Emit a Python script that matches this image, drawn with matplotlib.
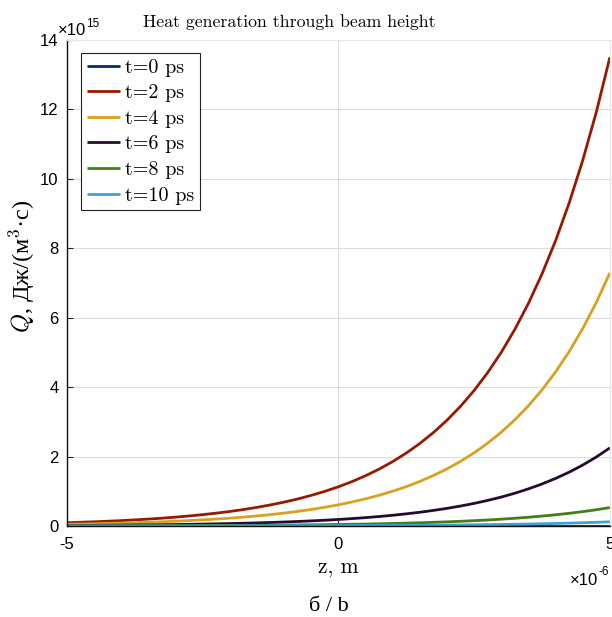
import matplotlib
matplotlib.use("Agg")
import matplotlib.pyplot as plt

# depth coordinate through the beam height (units of 1e-6 m)
z_um = [-5.0, -4.75, -4.5, -4.25, -4.0, -3.75, -3.5, -3.25, -3.0, -2.75, -2.5,
        -2.25, -2.0, -1.75, -1.5, -1.25, -1.0, -0.75, -0.5, -0.25, 0.0,
        0.25, 0.5, 0.75, 1.0, 1.25, 1.5, 1.75, 2.0, 2.25, 2.5,
        2.75, 3.0, 3.25, 3.5, 3.75, 4.0, 4.25, 4.5, 4.75, 5.0]

# heat generation Q in units of 1e15 J/(m^3 s)
q_t0 = [0.0] * 41
q_t2 = [0.095, 0.107, 0.121, 0.137, 0.155, 0.176, 0.199, 0.225, 0.255, 0.289, 0.327,
        0.370, 0.419, 0.474, 0.537, 0.608, 0.688, 0.779, 0.882, 0.998, 1.13,
        1.279, 1.448, 1.639, 1.856, 2.101, 2.378, 2.692, 3.047, 3.449, 3.905,
        4.420, 5.004, 5.665, 6.413, 7.260, 8.218, 9.303, 10.53, 11.92, 13.5]
q_t4 = [0.051, 0.058, 0.065, 0.074, 0.084, 0.095, 0.107, 0.122, 0.138, 0.156, 0.177,
        0.200, 0.226, 0.256, 0.290, 0.328, 0.372, 0.421, 0.476, 0.539, 0.61,
        0.691, 0.782, 0.885, 1.002, 1.134, 1.284, 1.454, 1.645, 1.863, 2.109,
        2.387, 2.702, 3.059, 3.463, 3.920, 4.438, 5.024, 5.686, 6.437, 7.29]
q_t6 = [0.016, 0.018, 0.020, 0.023, 0.026, 0.029, 0.033, 0.038, 0.043, 0.048, 0.055,
        0.062, 0.070, 0.079, 0.090, 0.101, 0.115, 0.130, 0.147, 0.166, 0.188,
        0.213, 0.241, 0.273, 0.309, 0.350, 0.396, 0.449, 0.508, 0.575, 0.651,
        0.737, 0.834, 0.944, 1.069, 1.210, 1.370, 1.550, 1.755, 1.987, 2.25]
q_t8 = [0.0037, 0.0042, 0.0048, 0.0054, 0.0061, 0.0069, 0.0078, 0.0088, 0.0100, 0.0114, 0.0129,
        0.0145, 0.0165, 0.0186, 0.0211, 0.0239, 0.0270, 0.0306, 0.0347, 0.0392, 0.0444,
        0.0503, 0.0569, 0.0644, 0.0729, 0.0826, 0.0935, 0.1058, 0.1197, 0.1356, 0.1535,
        0.1737, 0.1967, 0.2226, 0.2520, 0.2853, 0.3230, 0.3656, 0.4138, 0.4685, 0.53]
q_t10 = [0.0008, 0.0010, 0.0011, 0.0012, 0.0014, 0.0016, 0.0018, 0.0020, 0.0023, 0.0026, 0.0029,
         0.0033, 0.0037, 0.0042, 0.0048, 0.0054, 0.0061, 0.0069, 0.0078, 0.0089, 0.0101,
         0.0114, 0.0129, 0.0146, 0.0165, 0.0187, 0.0212, 0.0240, 0.0271, 0.0307, 0.0348,
         0.0393, 0.0445, 0.0504, 0.0571, 0.0646, 0.0731, 0.0828, 0.0937, 0.1061, 0.12]

labels = ["t=0 ps", "t=2 ps", "t=4 ps", "t=6 ps", "t=8 ps", "t=10 ps"]
series = [q_t0, q_t2, q_t4, q_t6, q_t8, q_t10]
colors = ["#0f286a", "#961a02", "#d8a11e", "#250b30", "#477d16", "#3ca2d8"]

y_ticks = [0, 2, 4, 6, 8, 10, 12, 14]
x_ticks = [-5, 0, 5]

serif = ["cmr10", "DejaVu Serif"]
cyr_serif = ["Liberation Serif", "DejaVu Serif"]
tick_font = ["Liberation Sans", "DejaVu Sans"]

plt.rcParams["mathtext.fontset"] = "cm"
plt.rcParams["axes.formatter.use_mathtext"] = True

fig = plt.figure(figsize=(6.12, 6.17), dpi=100)
ax = fig.add_axes([0.1095, 0.1475, 0.887, 0.7877])

for q, lab, c in zip(series, labels, colors):
    ax.plot(z_um, q, color=c, lw=2.0, label=lab, solid_capstyle="butt")

ax.set_xlim(-5, 5)
ax.set_ylim(0, 14)
ax.set_xticks(x_ticks)
ax.set_yticks(y_ticks)
ax.set_xticklabels([str(v) for v in x_ticks], family=tick_font, fontsize=12)
ax.set_yticklabels([str(v) for v in y_ticks], family=tick_font, fontsize=12)
ax.tick_params(direction="in", length=4, width=0.8, color="#222222")
ax.tick_params(axis="x", pad=8)
ax.tick_params(axis="y", pad=6)

ax.grid(True, color="#dddddd", lw=0.8)
ax.set_axisbelow(True)
for s in ["top", "right"]:
    ax.spines[s].set_color("#e6e6e6")
    ax.spines[s].set_linewidth(0.8)
for s in ["left", "bottom"]:
    ax.spines[s].set_color("#111111")
    ax.spines[s].set_linewidth(1.0)

# exponent annotations for both axes
base15 = ax.text(-0.017, 1.0045, "×10", transform=ax.transAxes, ha="left", va="bottom",
                 family=tick_font, fontsize=12)
ax.annotate("15", xy=(1.0, 0.55), xycoords=base15, ha="left", va="bottom",
            family=tick_font, fontsize=8.5)
exp6 = ax.text(0.998, -0.083, "-6", transform=ax.transAxes, ha="right", va="top",
               family=tick_font, fontsize=8.5)
ax.annotate("×10", xy=(0.0, 0.45), xycoords=exp6, ha="right", va="top",
            family=tick_font, fontsize=12)

fig.text(0.472, 0.964, "Heat generation through beam height", family=serif, fontsize=12.8,
         ha="center", va="center")
ax.set_xlabel("z, m", family=serif, fontsize=15.5, labelpad=4)
ax.set_ylabel(r"$Q$, Дж/(м$^3$·с)", family=cyr_serif, fontsize=17.5)
ax.yaxis.set_label_coords(-0.056, 0.535)

leg = ax.legend(loc="upper left", bbox_to_anchor=(0.026, 0.973), prop={"family": serif, "size": 14.5},
                frameon=True, fancybox=False, edgecolor="#222222", framealpha=1.0,
                handlelength=1.65, handletextpad=0.25, labelspacing=0.37, borderpad=0.28,
                borderaxespad=0.0)
leg.get_frame().set_linewidth(0.8)

fig.text(0.537, 0.002, "б / b", family=cyr_serif, fontsize=16, ha="center", va="bottom")

fig.savefig("out.png", dpi=100)
